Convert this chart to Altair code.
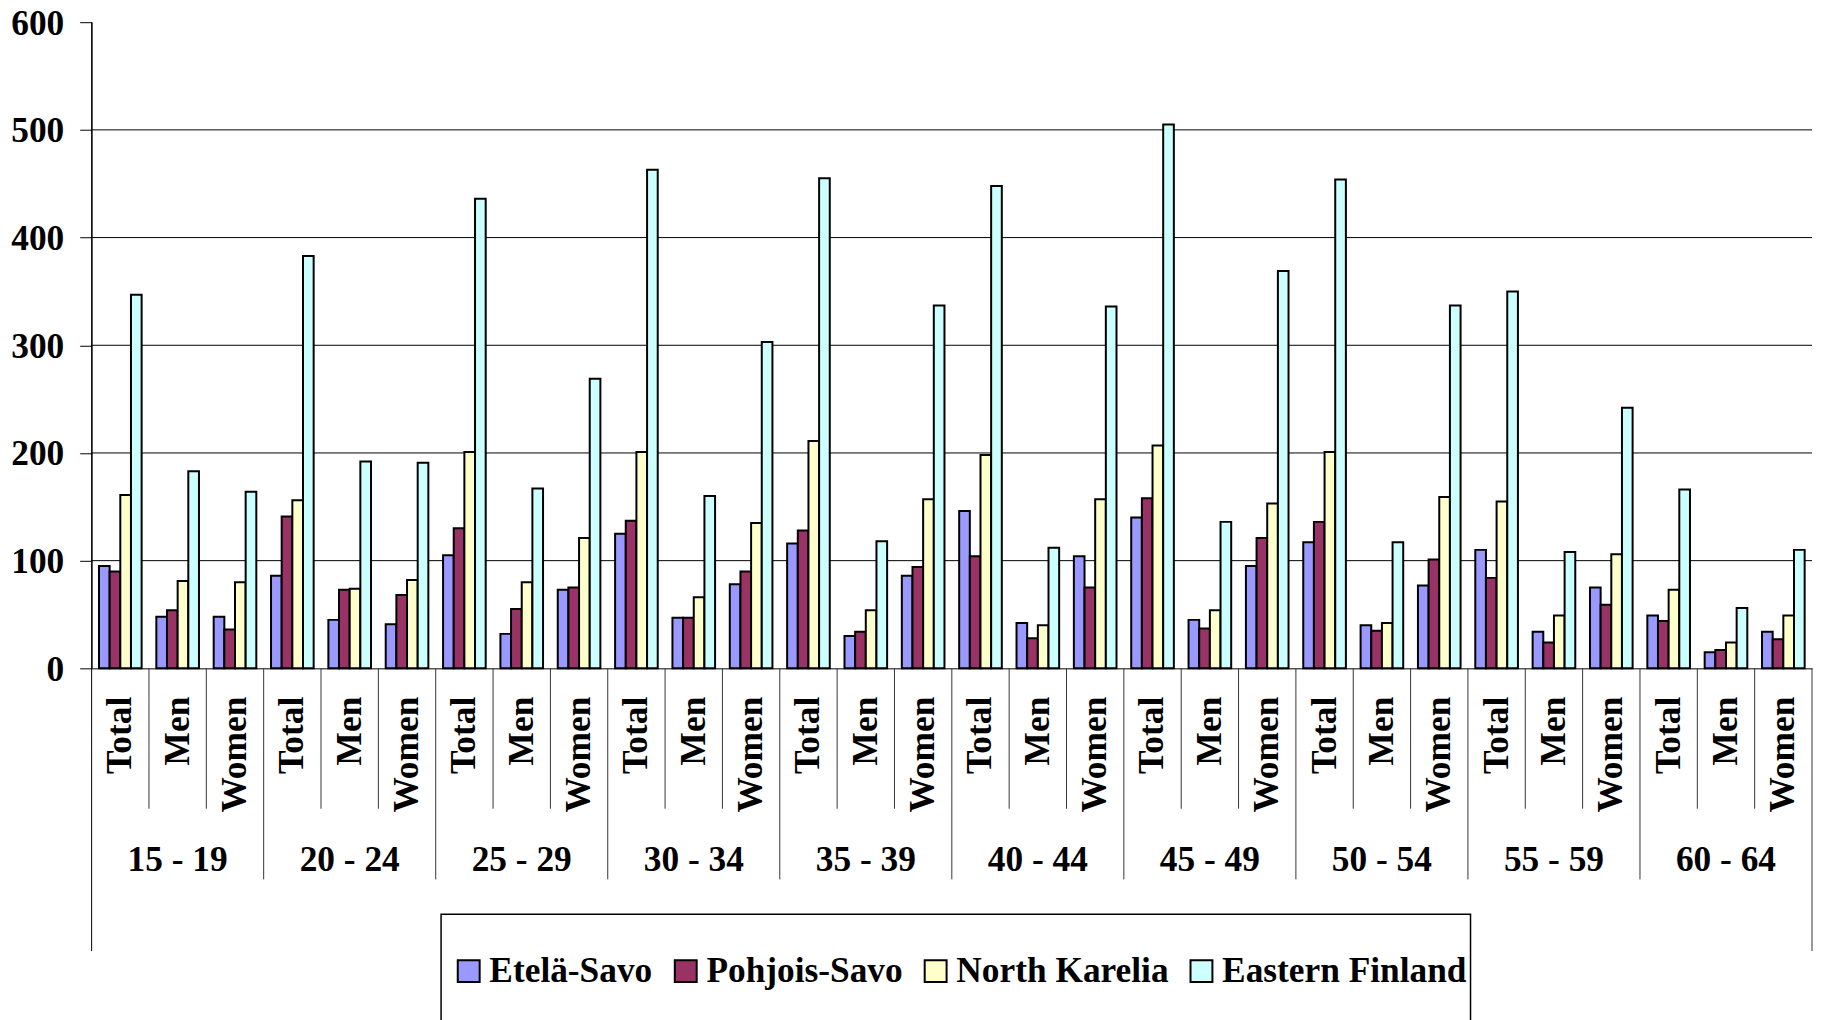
import altair as alt
import pandas as pd

ages = ["15 - 19", "20 - 24", "25 - 29", "30 - 34", "35 - 39",
        "40 - 44", "45 - 49", "50 - 54", "55 - 59", "60 - 64"]
subs = ["Total", "Men", "Women"]
series = ["Etelä-Savo", "Pohjois-Savo", "North Karelia", "Eastern Finland"]
colors = ["#9999FF", "#993366", "#FFFFCC", "#CCFFFF"]

etela_savo = [95, 48, 48, 86, 45, 41, 105, 32, 73, 125, 47, 78, 116, 30, 86,
              146, 42, 104, 140, 45, 95, 117, 40, 77, 110, 34, 75, 49, 15, 34]
pohjois_savo = [90, 54, 36, 141, 73, 68, 130, 55, 75, 137, 47, 90, 128, 34, 94,
                104, 28, 75, 158, 37, 121, 136, 35, 101, 84, 24, 59, 44, 17, 27]
north_karelia = [161, 81, 80, 156, 74, 82, 201, 80, 121, 201, 66, 135, 211, 54, 157,
                 198, 40, 157, 207, 54, 153, 201, 42, 159, 155, 49, 106, 73, 24, 49]
eastern_finland = [347, 183, 164, 383, 192, 191, 436, 167, 269, 463, 160, 303, 455, 118, 337,
                   448, 112, 336, 505, 136, 369, 454, 117, 337, 350, 108, 242, 166, 56, 110]

y_ticks = [0, 100, 200, 300, 400, 500, 600]
grid_vals = [100, 200, 300, 400, 500]

values = {
    "Etelä-Savo": etela_savo,
    "Pohjois-Savo": pohjois_savo,
    "North Karelia": north_karelia,
    "Eastern Finland": eastern_finland,
}

keys = [f"{a}|{s}" for a in ages for s in subs]
rows = []
for name in series:
    for k, v in zip(keys, values[name]):
        rows.append({"key": k, "series": name, "value": v})
df = pd.DataFrame(rows)

inner_df = pd.DataFrame({"key": [f"{a}|{s}" for a in ages for s in subs[1:]]})
group_df = pd.DataFrame({"key": [f"{a}|Total" for a in ages[1:]]})
left_df = pd.DataFrame({"key": [keys[0]]})
right_df = pd.DataFrame({"key": [keys[-1]]})
age_df = pd.DataFrame({"key": [f"{a}|Men" for a in ages], "label": ages})
grid_df = pd.DataFrame({"value": grid_vals})
box_df = pd.DataFrame({"d": [0]})

W, H = 1728, 649
FONT = "Liberation Serif"
FS = 35.5

xscale = alt.Scale(domain=keys, paddingInner=0, paddingOuter=0)
yscale = alt.Scale(domain=[0, 600], nice=False)

x_axis = alt.Axis(
    title=None,
    labelExpr="split(datum.value, '|')[1]",
    labelAngle=270,
    labelAlign="right",
    labelBaseline="middle",
    labelFont=FONT,
    labelFontWeight="bold",
    labelFontSize=FS,
    labelColor="black",
    labelPadding=28,
    labelOverlap=False,
    labelBound=False,
    labelFlush=False,
    labelLimit=0,
    ticks=False,
    tickSize=0,
    domainColor="black",
    domainWidth=1,
)

y_axis = alt.Axis(
    title=None,
    values=y_ticks,
    grid=False,
    tickSize=12,
    tickColor="black",
    domainColor="black",
    domainWidth=1,
    labelFont=FONT,
    labelFontWeight="bold",
    labelFontSize=FS,
    labelColor="black",
    labelPadding=16,
    labelOffset=1,
)

grid = alt.Chart(grid_df).mark_rule(color="black", strokeWidth=1).encode(
    y=alt.Y("value:Q", scale=yscale, axis=y_axis),
    x=alt.value(0),
    x2=alt.value(W),
)

bars = alt.Chart(df).mark_bar(stroke="black", strokeWidth=2).encode(
    x=alt.X("key:N", scale=xscale, axis=x_axis),
    xOffset=alt.XOffset(
        "series:N",
        sort=series,
        scale=alt.Scale(domain=series, paddingInner=0, paddingOuter=0.69),
    ),
    y=alt.Y("value:Q", scale=yscale, axis=y_axis),
    color=alt.Color(
        "series:N",
        sort=series,
        scale=alt.Scale(domain=series, range=colors),
        legend=alt.Legend(
            orient="none",
            legendX=361,
            legendY=935,
            direction="horizontal",
            title=None,
            symbolType="square",
            symbolSize=484,
            symbolStrokeColor="black",
            symbolStrokeWidth=2,
            labelFont=FONT,
            labelFontWeight="bold",
            labelFontSize=FS,
            labelColor="black",
            labelOffset=3,
            columnPadding=15,
            padding=0,
            labelLimit=0,
        ),
    ),
)

inner = alt.Chart(inner_df).mark_rule(color="#333333", strokeWidth=1).encode(
    x=alt.X("key:N", scale=xscale, bandPosition=0, axis=x_axis),
    y=alt.value(H),
    y2=alt.value(H + 141),
)

groups = alt.Chart(group_df).mark_rule(color="#333333", strokeWidth=1).encode(
    x=alt.X("key:N", scale=xscale, bandPosition=0, axis=x_axis),
    y=alt.value(H),
    y2=alt.value(H + 212),
)

edge_l = alt.Chart(left_df).mark_rule(color="black", strokeWidth=1).encode(
    x=alt.X("key:N", scale=xscale, bandPosition=0, axis=x_axis),
    y=alt.value(0),
    y2=alt.value(H + 284),
)

edge_r = alt.Chart(right_df).mark_rule(color="#333333", strokeWidth=1).encode(
    x=alt.X("key:N", scale=xscale, bandPosition=1, axis=x_axis),
    y=alt.value(H),
    y2=alt.value(H + 284),
)

age_txt = alt.Chart(age_df).mark_text(
    font=FONT, fontWeight="bold", fontSize=FS, color="black",
    align="center", baseline="middle",
).encode(
    x=alt.X("key:N", scale=xscale, axis=x_axis),
    y=alt.value(H + 193),
    text="label:N",
)

box = alt.Chart(box_df).mark_rect(
    fill="white", fillOpacity=0, stroke="black", strokeWidth=1.5
).encode(
    x=alt.value(351),
    x2=alt.value(1385),
    y=alt.value(896),
    y2=alt.value(H + 420),
)

chart = alt.layer(grid, box, bars, inner, groups, edge_l, edge_r, age_txt).properties(
    width=W,
    height=H,
    padding={"left": 84, "top": 12, "right": 2, "bottom": 360},
    autosize=alt.AutoSizeParams(type="none"),
    background="white",
).configure_view(strokeWidth=0)

chart.save("out.html", embed_options={"renderer": "svg", "actions": False})
